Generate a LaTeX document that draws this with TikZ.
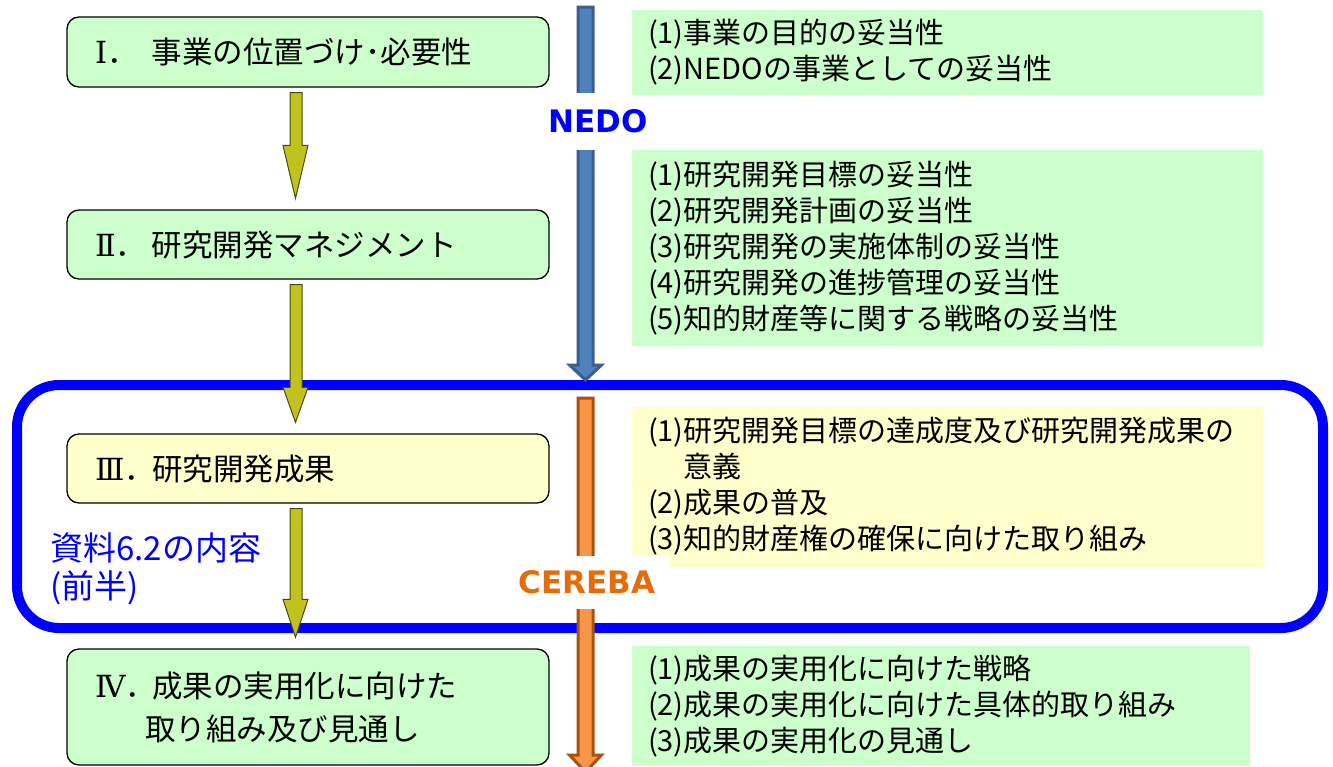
\documentclass[tikz,border=0pt]{standalone}
\usepackage{fontspec}
\setmainfont{Noto Sans CJK JP}
\newfontfamily\latinbold{DejaVu Sans}
\newfontfamily\romanf{DejaVu Serif}
\usetikzlibrary{calc}
\definecolor{lgreen}{HTML}{CCFFCC}
\definecolor{lyellow}{HTML}{FFFFCC}
\definecolor{olivefill}{HTML}{C2C21E}
\definecolor{oliveline}{HTML}{4A4A10}
\definecolor{bluefill}{HTML}{4F81BD}
\definecolor{blueline}{HTML}{3A5F8F}
\definecolor{orfill}{HTML}{F79646}
\definecolor{orline}{HTML}{A8520C}
\definecolor{nedoblue}{HTML}{0000FF}
\definecolor{cerebaor}{HTML}{E46C0A}
\definecolor{frameblue}{HTML}{0000FF}
\newcommand\blockarr[7]{%
  \draw[#1] (#2-#3,#5) -- (#2+#3,#5) -- (#2+#3,#6) -- (#2+#4,#6) -- (#2,#7)
    -- (#2-#4,#6) -- (#2-#3,#6) -- cycle;}
\newcommand\oarr[3]{%
  \draw[oarrow] let \p1=(#1.south), \p2=(#2.north) in
   (\x1-18pt,\y1-5pt) -- (\x1-6pt,\y1-5pt) -- (\x1-6pt,\y2+11pt+#3)
   -- (\x1,\y2+11pt+#3) -- (\x1-12.5pt,\y2+11pt) -- (\x1-25pt,\y2+11pt+#3)
   -- (\x1-18pt,\y2+11pt+#3) -- cycle;}
\newcommand\rnum[1]{\makebox[40pt][l]{{\romanf #1}．}\hspace{17pt}}
\begin{document}
\begin{tikzpicture}[x=1pt,y=-1pt,
  lbox/.style={draw=black, line width=1.3pt, rounded corners=12pt,
    inner xsep=28pt, inner ysep=0pt, text width=426pt, align=left,
    minimum width=482pt, font=\fontsize{30.5}{43}\selectfont},
  rbox/.style={draw=none, inner xsep=16pt, inner ysep=0pt, align=left,
    font=\fontsize{29}{36}\selectfont},
  oarrow/.style={fill=olivefill, draw=oliveline, line width=1pt},
  barrow/.style={fill=bluefill, draw=blueline, line width=3pt},
  orarrow/.style={fill=orfill, draw=orline, line width=3pt},
  lbl/.style={fill=white, inner sep=0pt, font=\latinbold\bfseries\fontsize{31}{31}\selectfont},
  frame/.style={draw=frameblue, line width=10pt, rounded corners=42pt},
  note/.style={text=frameblue, inner sep=0pt, align=left, font=\fontsize{33}{38}\selectfont}]
\useasboundingbox[fill=white] (0,0) rectangle (1333,766);
% blue frame
\draw[frame] (17,385) rectangle (1323,628);
% vertical arrows
\blockarr{barrow}{585.5}{7.5}{16}{7}{365}{380}
\blockarr{orarrow}{585.5}{7.5}{16}{398}{755}{772}
\node[lbl, text=nedoblue, minimum width=110pt, minimum height=57pt] (nedo) at (598,121.5) {NEDO};
% left boxes
\node[lbox, fill=lgreen, minimum height=70pt] (b1) at (308,52) {\rnum{Ⅰ}事業の位置づけ･必要性};
\node[lbox, fill=lgreen, minimum height=69pt] (b2) at (308,244.5) {\rnum{Ⅱ}研究開発マネジメント};
\node[lbox, fill=lyellow, minimum height=69pt] (b3) at (308,468.5) {\rnum{Ⅲ}研究開発成果};
\node[lbox, fill=lgreen, minimum height=116pt] (b4) at (308,707) {\rnum{Ⅳ}成果の実用化に向けた\\\hspace{50pt}取り組み及び見通し};
% olive arrows
\oarr{b1}{b2}{53pt}
\oarr{b2}{b3}{35pt}
\oarr{b3}{b4}{38pt}
% right boxes
\node[rbox, fill=lgreen, text width=599pt, minimum height=85pt] (ra) at (947.5,52.5)
  {(1)事業の目的の妥当性\\(2)NEDOの事業としての妥当性};
\node[rbox, fill=lgreen, text width=599pt, minimum height=196pt] (rb) at (947.5,248)
  {(1)研究開発目標の妥当性\\(2)研究開発計画の妥当性\\(3)研究開発の実施体制の妥当性\\(4)研究開発の進捗管理の妥当性\\(5)知的財産等に関する戦略の妥当性};
\node[rbox, fill=lyellow, text width=599pt, minimum height=160pt] (rc) at (947.5,486.5)
  {(1)研究開発目標の達成度及び研究開発成果の\\\phantom{(1)}意義\\(2)成果の普及\\(3)知的財産権の確保に向けた取り組み};
\node[rbox, fill=lgreen, text width=586pt, minimum height=120pt] (rd) at (941,706)
  {(1)成果の実用化に向けた戦略\\(2)成果の実用化に向けた具体的取り組み\\(3)成果の実用化の見通し};
\node[lbl, text=cerebaor, minimum width=164pt, minimum height=53pt] (cereba) at (587,582.5) {CEREBA};
% note
\node[note, anchor=west] (memo) at (50,569) {資料6.2の内容\\(前半)};
\end{tikzpicture}
\end{document}
